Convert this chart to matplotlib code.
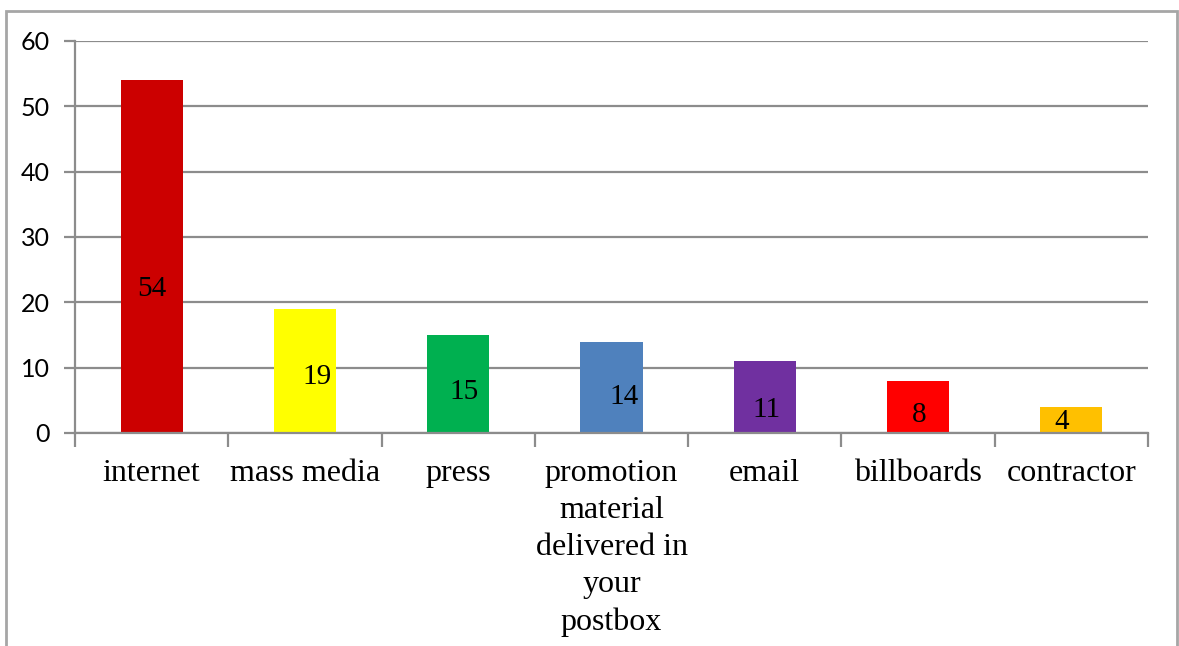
import numpy as np
import matplotlib.pyplot as plt
from matplotlib.patches import Rectangle

categories = ["internet", "mass media", "press",
              "promotion\nmaterial\ndelivered in\nyour\npostbox",
              "email", "billboards", "contractor"]
values = [54, 19, 15, 14, 11, 8, 4]
colors = ["#CC0000", "#FFFF00", "#00B050", "#4F81BD", "#7030A0", "#FF0000", "#FFC000"]

# hand-placed value labels: (x shift in category units, height in data units)
label_dx = [0.0, 0.08, 0.04, 0.08, 0.01, 0.01, -0.06]
label_y = [22.0, 8.6, 6.3, 5.5, 3.5, 2.8, 1.7]

grid_col = "#8C8C8C"

fig = plt.figure(figsize=(11.79, 6.46), dpi=100)
ax = fig.add_axes([75 / 1179, 213 / 646, (1148 - 75) / 1179, (433 - 41) / 646])

x = np.arange(len(values))
ax.bar(x, values, width=0.405, color=colors, zorder=3)

for i, v in enumerate(values):
    ax.text(x[i] + label_dx[i], label_y[i], str(v), ha="center", va="center",
            fontsize=21, family="Liberation Serif", color="black", zorder=4)

ax.set_xlim(-0.5, len(values) - 0.5)
ax.set_ylim(0, 60)
ax.set_yticks(range(0, 61, 10))
ax.yaxis.grid(True, color=grid_col, linewidth=1.6, zorder=0)

# tick marks between categories, labels under the bars
ax.set_xticks(np.arange(-0.5, len(values), 1.0))
ax.set_xticklabels([])
ax.set_xticks(x, minor=True)
ax.set_xticklabels(categories, minor=True, fontsize=23, family="Liberation Serif",
                   multialignment="center", linespacing=1.36, va="top")
ax.tick_params(axis="x", which="major", length=10, width=1.6, color=grid_col, direction="out")
ax.tick_params(axis="x", which="minor", length=0, pad=19)
ax.tick_params(axis="y", length=8, width=1.6, color=grid_col, direction="out", pad=10,
               labelsize=18)
for lab in ax.get_yticklabels():
    lab.set_family(["Lato", "DejaVu Sans"])

for side in ["top", "right"]:
    ax.spines[side].set_visible(False)
for side in ["left", "bottom"]:
    ax.spines[side].set_color(grid_col)
    ax.spines[side].set_linewidth(1.6)
    ax.spines[side].set_zorder(5)

# outer chart border, bottom edge runs off the canvas
fig.patches.append(Rectangle((6 / 1179, -0.1), (1177 - 6) / 1179, 1.1 - 11 / 646,
                             transform=fig.transFigure, fill=False,
                             edgecolor="#A6A6A6", linewidth=2.0))

fig.savefig("out.png", dpi=100)
